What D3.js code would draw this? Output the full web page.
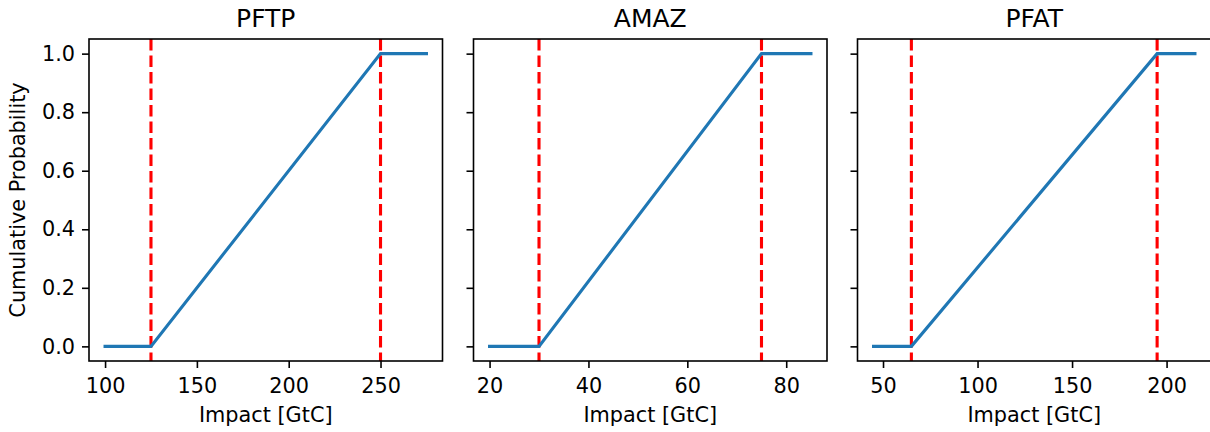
<!DOCTYPE html>
<html>
<head>
<meta charset="utf-8">
<script src="https://cdn.jsdelivr.net/npm/d3@7"></script>
<style>
  body { margin: 0; background: #fff; }
  text { font-family: "DejaVu Sans", sans-serif; fill: #000; }
</style>
</head>
<body>
<svg id="chart" width="1210" height="432"></svg>
<script>
// panel names
var titles = ['PFTP', 'AMAZ', 'PFAT'];
// x values of the cumulative curve (start, lower bound, upper bound, end)
var curveX = [
  [100, 125, 250, 275],
  [20, 30, 75, 85],
  [45, 65, 195, 215]
];
var curveY = [0, 0, 1, 1];
// red dashed bound lines
var bounds = [
  [125, 250],
  [30, 75],
  [65, 195]
];
var xTicks = [
  [100, 150, 200, 250],
  [20, 40, 60, 80],
  [50, 100, 150, 200]
];
var yTicks = [0, 0.2, 0.4, 0.6, 0.8, 1.0];

var panelLeft = [89, 473.5, 857.5];
var panelWidth = 353.5;
var plotTop = 39, plotBottom = 361;
var fontSize = 20.8;

var svg = d3.select('#chart');

var y = d3.scaleLinear().domain([-0.05, 1.05]).range([plotBottom, plotTop]);

titles.forEach(function (title, i) {
  var xs = curveX[i];
  var lo = d3.min(xs), hi = d3.max(xs);
  var pad = (hi - lo) * 0.05;
  var x = d3.scaleLinear()
    .domain([lo - pad, hi + pad])
    .range([panelLeft[i], panelLeft[i] + panelWidth]);

  var g = svg.append('g').attr('class', 'panel');

  // dashed bounds
  g.selectAll('line.bound')
    .data(bounds[i])
    .enter().append('line')
    .attr('class', 'bound')
    .attr('x1', function (d) { return x(d); })
    .attr('x2', function (d) { return x(d); })
    .attr('y1', plotTop)
    .attr('y2', plotBottom)
    .attr('stroke', '#ff0000')
    .attr('stroke-width', 3.1)
    .attr('stroke-dasharray', '11.5,5');

  // cdf line
  var line = d3.line()
    .x(function (d, k) { return x(xs[k]); })
    .y(function (d) { return y(d); });
  g.append('path')
    .datum(curveY)
    .attr('d', line)
    .attr('fill', 'none')
    .attr('stroke', '#1f77b4')
    .attr('stroke-width', 3.1)
    .attr('stroke-linecap', 'square');

  // axes
  var xAxis = d3.axisBottom(x).tickValues(xTicks[i]).tickSize(7).tickPadding(7)
    .tickFormat(d3.format('d'));
  var gx = g.append('g')
    .attr('transform', 'translate(0,' + plotBottom + ')')
    .call(xAxis);
  gx.select('.domain').remove();
  gx.selectAll('line').attr('stroke', '#000').attr('stroke-width', 1.6);
  gx.selectAll('text').attr('font-size', fontSize).attr('font-family', 'DejaVu Sans')
    .attr('dy', '0.87em');

  var yAxis = d3.axisLeft(y).tickValues(yTicks).tickSize(7).tickPadding(7)
    .tickFormat(i === 0 ? d3.format('.1f') : function () { return ''; });
  var gy = g.append('g')
    .attr('transform', 'translate(' + panelLeft[i] + ',0)')
    .call(yAxis);
  gy.select('.domain').remove();
  gy.selectAll('line').attr('stroke', '#000').attr('stroke-width', 1.6);
  gy.selectAll('text').attr('font-size', fontSize).attr('font-family', 'DejaVu Sans');

  // frame
  g.append('rect')
    .attr('x', panelLeft[i])
    .attr('y', plotTop)
    .attr('width', panelWidth)
    .attr('height', plotBottom - plotTop)
    .attr('fill', 'none')
    .attr('stroke', '#000')
    .attr('stroke-width', 1.6);

  g.append('text')
    .attr('x', panelLeft[i] + panelWidth / 2)
    .attr('y', 27)
    .attr('text-anchor', 'middle')
    .attr('font-size', 25)
    .text(title);

  g.append('text')
    .attr('x', panelLeft[i] + panelWidth / 2)
    .attr('y', 421.5)
    .attr('text-anchor', 'middle')
    .attr('font-size', fontSize)
    .text('Impact [GtC]');
});

svg.append('text')
  .attr('transform', 'translate(25,' + (plotTop + plotBottom) / 2 + ') rotate(-90)')
  .attr('text-anchor', 'middle')
  .attr('font-size', fontSize)
  .text('Cumulative Probability');
</script>
</body>
</html>
